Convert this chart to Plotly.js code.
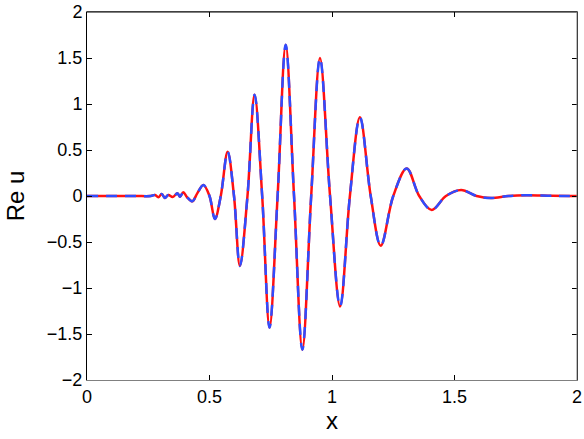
<!DOCTYPE html>
<html>
<head>
<meta charset="utf-8">
<script src="https://cdn.plot.ly/plotly-3.0.1.min.js"></script>
<style>
  html, body { margin: 0; padding: 0; background: #fff; }
  #chart { width: 584px; height: 439px; }
</style>
</head>
<body>
<div id="chart"></div>
<script>
// x positions (extrema, zero crossings, ripples)
const xs = [0, 0.1, 0.2, 0.26, 0.278, 0.291, 0.305, 0.318, 0.332, 0.350, 0.369, 0.380,
  0.393, 0.409, 0.430, 0.450, 0.475, 0.500, 0.522, 0.546, 0.574, 0.600, 0.624, 0.655,
  0.684, 0.715, 0.745, 0.778, 0.811, 0.845, 0.879, 0.915, 0.951, 0.992, 1.033, 1.073,
  1.114, 1.158, 1.199, 1.250, 1.305, 1.356, 1.407, 1.465, 1.527, 1.590, 1.649, 1.720,
  1.795, 1.900, 2.0];

// Re u, solid red curve
const reuSolid = [0, 0, 0, 0, 0.011, -0.014, 0.022, -0.022, 0.011, -0.011, 0.029, -0.007,
  0.040, -0.014, -0.058, 0.029, 0.12, 0, -0.25, 0, 0.48, 0, -0.76, 0,
  1.10, 0, -1.43, 0, 1.645, 0, -1.67, 0, 1.50, 0, -1.20, 0,
  0.855, 0, -0.54, 0, 0.30, 0, -0.152, 0, 0.065, 0, -0.022, 0,
  0.008, 0.002, 0];

// Re u, dashed blue curve
const reuDashed = [0, 0, 0, 0, 0.011, -0.014, 0.022, -0.022, 0.011, -0.011, 0.029, -0.007,
  0.040, -0.014, -0.058, 0.029, 0.12, 0, -0.25, 0, 0.48, 0, -0.76, 0,
  1.10, 0, -1.43, 0, 1.645, 0, -1.67, 0, 1.50, 0, -1.20, 0,
  0.855, 0, -0.54, 0, 0.30, 0, -0.152, 0, 0.065, 0, -0.022, 0,
  0.008, 0.002, 0];

const xTicks = [0, 0.5, 1, 1.5, 2];
const yTicks = [-2, -1.5, -1, -0.5, 0, 0.5, 1, 1.5, 2];

const traces = [
  {
    x: xs, y: reuSolid, type: 'scatter', mode: 'lines',
    line: { color: '#ff1010', width: 2.5, shape: 'spline', smoothing: 1 },
    hoverinfo: 'none'
  },
  {
    x: xs, y: reuDashed, type: 'scatter', mode: 'lines',
    line: { color: '#2f4cff', width: 2.5, shape: 'spline', smoothing: 1, dash: '11px,8px' },
    hoverinfo: 'none'
  }
];

const layout = {
  width: 584, height: 439,
  margin: { l: 87, r: 7, t: 12, b: 59 },
  paper_bgcolor: '#fff', plot_bgcolor: '#fff',
  showlegend: false,
  font: { family: 'Liberation Sans, Arial, sans-serif', color: '#000', size: 18 },
  xaxis: {
    range: [0, 2], tickvals: xTicks, ticktext: xTicks.map(String),
    showgrid: false, zeroline: false,
    showline: true, linecolor: '#808080', linewidth: 1, mirror: 'ticks',
    ticks: 'inside', ticklen: 5, tickcolor: '#000', tickwidth: 1,
    tickfont: { size: 18 },
    title: { text: 'x', font: { size: 24 }, standoff: 6 }
  },
  yaxis: {
    range: [-2, 2], tickvals: yTicks,
    showgrid: false, zeroline: false,
    showline: true, linecolor: '#000', linewidth: 1, mirror: 'ticks',
    ticks: 'inside', ticklen: 5, tickcolor: '#000', tickwidth: 1,
    tickfont: { size: 18 },
    title: { text: 'Re u', font: { size: 24 }, standoff: 15 }
  },
  shapes: [
    { type: 'line', xref: 'paper', yref: 'paper', x0: 0, x1: 1, y0: 1, y1: 1,
      line: { color: '#000', width: 1 } },
    { type: 'line', xref: 'paper', yref: 'paper', x0: 1, x1: 1, y0: 0, y1: 1,
      line: { color: '#808080', width: 1 } }
  ]
};

Plotly.newPlot('chart', traces, layout, { staticPlot: true, displayModeBar: false });
</script>
</body>
</html>
